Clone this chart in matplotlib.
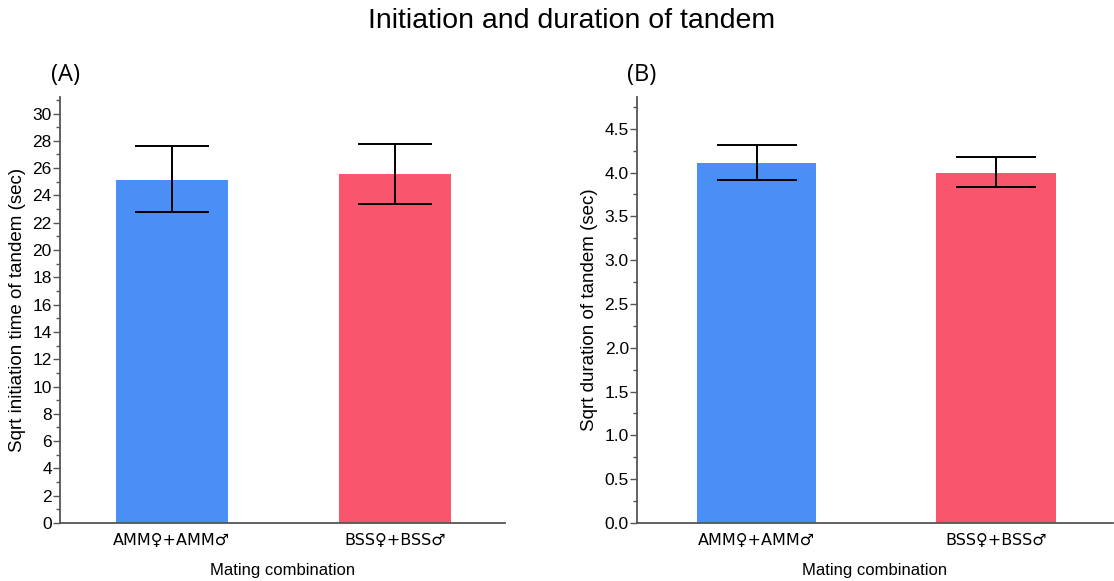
import matplotlib
matplotlib.use("Agg")
import matplotlib.pyplot as plt
from matplotlib.ticker import MultipleLocator

# --- Data ---
groups = ["AMM♀+AMM♂", "BSS♀+BSS♂"]
bar_colors = ["#4a8ff5", "#f9566e"]

init_mean = [25.15, 25.6]
init_err_low = [22.8, 23.4]
init_err_high = [27.65, 27.75]

dur_mean = [4.11, 4.0]
dur_err_low = [3.91, 3.83]
dur_err_high = [4.31, 4.18]

plt.rcParams["font.family"] = ["Liberation Sans", "DejaVu Sans"]

fig = plt.figure(figsize=(11.14, 5.81), dpi=100)
ax_a = fig.add_axes([0.054, 0.0998, 0.399, 0.733])
ax_b = fig.add_axes([0.572, 0.0998, 0.427, 0.733])

fig.text(0.513, 0.964, "Initiation and duration of tandem", ha="center", va="center", fontsize=20.5)


def draw_panel(ax, means, lows, highs, ylim, major, minor, ylabel, fmt, cap):
    x = list(range(len(groups)))
    lower = [m - lo for m, lo in zip(means, lows)]
    upper = [hi - m for m, hi in zip(means, highs)]
    ax.bar(x, means, width=0.5, color=bar_colors, zorder=2)
    ax.errorbar(x, means, yerr=[lower, upper], fmt="none", ecolor="black",
                elinewidth=1.4, capsize=cap, capthick=1.4, zorder=3)
    ax.set_xlim(-0.5, 1.49)
    ax.set_ylim(*ylim)
    ax.yaxis.set_major_locator(MultipleLocator(major))
    ax.yaxis.set_minor_locator(MultipleLocator(minor))
    ax.yaxis.set_major_formatter(fmt)
    ax.set_xticks(x)
    ax.set_xticklabels(groups, fontsize=11.5, family=["DejaVu Sans"])
    ax.tick_params(axis="x", length=0, pad=7)
    ax.tick_params(axis="y", which="major", length=5, width=1, color="#555555", labelsize=12.5, pad=1)
    ax.tick_params(axis="y", which="minor", length=3, width=1, color="#555555")
    for side in ("top", "right"):
        ax.spines[side].set_visible(False)
    for side in ("left", "bottom"):
        ax.spines[side].set_color("#555555")
        ax.spines[side].set_linewidth(1.3)
    ax.set_ylabel(ylabel, fontsize=13.5, labelpad=5)
    ax.set_xlabel("Mating combination", fontsize=12, labelpad=11)


draw_panel(ax_a, init_mean, init_err_low, init_err_high, (0, 31.2), 2, 1,
           "Sqrt initiation time of tandem (sec)", "{x:.0f}", 26.5)
draw_panel(ax_b, dur_mean, dur_err_low, dur_err_high, (0, 4.86), 0.5, 0.25,
           "Sqrt duration of tandem (sec)", "{x:.1f}", 28.5)

fig.text(0.059, 0.871, "(A)", ha="center", va="center", fontsize=17, family="Open Sans")
fig.text(0.576, 0.871, "(B)", ha="center", va="center", fontsize=17, family="Open Sans")

fig.savefig("out.png", dpi=100)
